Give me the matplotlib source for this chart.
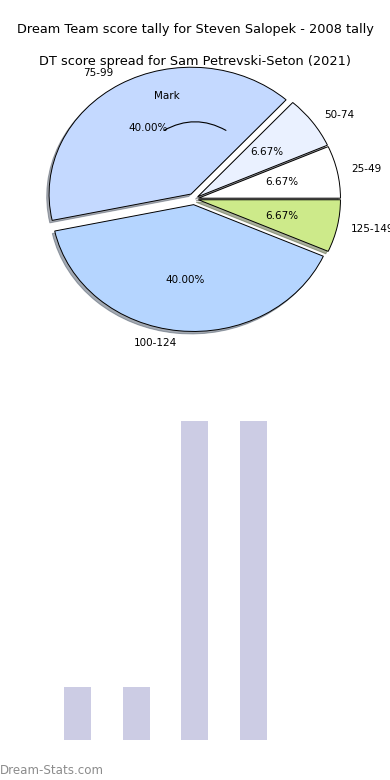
import matplotlib

matplotlib.use('Agg')
import matplotlib.pyplot as plt

# pie data: DT score spread
pie_labels = ['25-49', '50-74', '75-99', '100-124', '125-149']
pie_counts = [1, 1, 6, 6, 1]
pie_colors = ['#ffffff', '#eaf1ff', '#c4d9ff', '#b5d5ff', '#cdea8a']
pie_explode = [0.03, 0.03, 0.045, 0.045, 0.03]

# bar data: score tally
bar_pos = [0, 1, 2, 3]
bar_counts = [1, 1, 6, 6]
BAR_COLOR = '#cccce4'


def main():
    fig = plt.figure(figsize=(3.9, 7.8), dpi=100)

    ax = fig.add_axes([0.043, 0.5417, 0.9103, 0.4064])
    wedges, texts, autotexts = ax.pie(
        pie_counts, labels=pie_labels, colors=pie_colors, explode=pie_explode,
        autopct='%.2f%%', shadow={'ox': -0.012, 'oy': -0.014, 'shade': 0.6},
        startangle=0,
        wedgeprops={'edgecolor': 'black', 'linewidth': 0.7},
        textprops={'fontsize': 7.5})
    ax.set_aspect('auto')
    ax.set_xlim(-1.25, 1.25)
    ax.set_ylim(-1.25, 1.25)

    ax.text(-0.19, 0.81, 'Mark', ha='center', va='center', fontsize=7.5)
    ax.annotate('', xy=(0.24, 0.53), xytext=(-0.23, 0.53),
                arrowprops=dict(arrowstyle='-', connectionstyle='arc3,rad=-0.3',
                                color='black', lw=0.8))

    fig.text(0.5, 1 - 30 / 780, 'Dream Team score tally for Steven Salopek - 2008 tally',
             ha='center', va='center', fontsize=9.3)
    fig.text(0.5, 1 - 61 / 780, 'DT score spread for Sam Petrevski-Seton (2021)',
             ha='center', va='center', fontsize=9.3)

    bx = fig.add_axes([0.1, 40 / 780, 0.8, 335 / 780])
    bx.bar(bar_pos, bar_counts, width=0.46, color=BAR_COLOR)
    bx.set_xlim(-0.657, 4.667)
    bx.set_ylim(0, 6.3)
    bx.axis('off')

    fig.text(0.0, 1 - 770 / 780, 'Dream-Stats.com', ha='left', va='center',
             fontsize=8.6, color='#8c8c8c')

    fig.savefig('out.png', dpi=100)


if __name__ == '__main__':
    main()
